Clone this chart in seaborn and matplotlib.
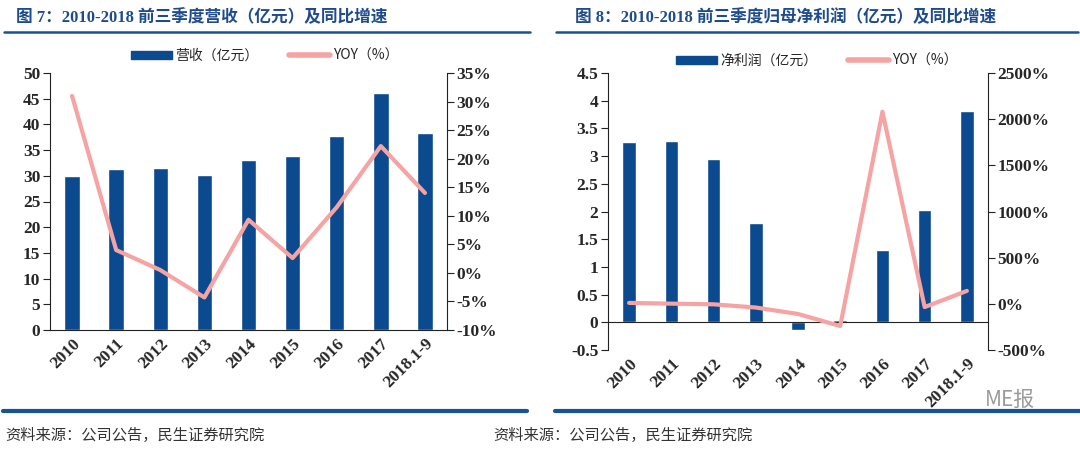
import numpy as np
import pandas as pd
import matplotlib
matplotlib.use("Agg")
import matplotlib.pyplot as plt
import seaborn as sns
from matplotlib.patches import Patch
from matplotlib.lines import Line2D
from matplotlib.ticker import FuncFormatter, FixedLocator

sns.set_style("white")
plt.rcParams['font.family'] = ['Liberation Serif', 'Noto Sans CJK SC', 'DejaVu Sans']

# data
years = ['2010', '2011', '2012', '2013', '2014', '2015', '2016', '2017', '2018.1-9']
revenue = [30.0, 31.4, 31.5, 30.2, 33.0, 33.8, 37.8, 46.2, 38.4]
revenue_yoy = [31.0, 4.0, 0.5, -4.3, 9.3, 2.6, 11.5, 22.2, 14.0]
profit = [3.25, 3.28, 2.95, 1.80, -0.13, 0.05, 1.30, 2.03, 3.82]
profit_yoy = [10, 2, -5, -40, -110, -240, 2080, -35, 140]

titles = ['图 7：2010-2018 前三季度营收（亿元）及同比增速',
          '图 8：2010-2018 前三季度归母净利润（亿元）及同比增速']
bar_labels = ['营收（亿元）', '净利润（亿元）']
line_label = 'YOY（%）'
source = '资料来源：公司公告，民生证券研究院'

NAVY = '#0B4A8F'
PINK = '#F5A3A3'
TITLE_BLUE = '#1E4B8C'
LINE_BLUE = '#175497'

fig = plt.figure(figsize=(10.8, 4.5), dpi=100)
W, H = 1080, 450


def fx(px):
    return px / W


def fy(py):
    return 1 - py / H


tick_font = dict(family='Liberation Serif', weight='bold', size=12.5)


def panel(rect, vals, yoy, ylim, ystep, y2lim, y2step, bar_w, lbl_pad, legend_xy, legend_lbl):
    df = pd.DataFrame({'year': years, 'val': vals, 'yoy': yoy, 'pos': range(len(years))})
    ax = fig.add_axes(rect)
    sns.barplot(data=df, x='year', y='val', color=NAVY, width=bar_w, saturation=1, ax=ax)
    ax.set_xlim(-0.5, len(years) - 0.5)
    ax.set_ylim(*ylim)
    ax.set_yticks(np.arange(ylim[0], ylim[1] + ystep / 2, ystep))
    ax.yaxis.set_major_formatter(FuncFormatter(lambda v, p: f'{v:g}'))
    ax.set_xlabel('')
    ax.set_ylabel('')
    for s in ['top', 'right']:
        ax.spines[s].set_visible(False)
    ax.spines['left'].set_color('#222222')
    ax.spines['bottom'].set_color('#222222')
    ax.spines['bottom'].set_position(('data', 0))
    ax.xaxis.set_minor_locator(FixedLocator(np.arange(-0.5, len(years), 1.0)))
    ax.tick_params(axis='x', which='major', length=0, pad=lbl_pad)
    ax.tick_params(axis='x', which='minor', length=6, direction='out', color='#222222')
    ax.tick_params(axis='y', length=5, direction='out', color='#222222', pad=2)
    ax.set_xticks(range(len(years)))
    ax.set_xticklabels(years, rotation=45, ha='right', rotation_mode='anchor', **tick_font)
    for t in ax.get_yticklabels():
        t.set_fontproperties(tick_font)

    ax2 = ax.twinx()
    sns.lineplot(data=df, x='pos', y='yoy', color=PINK, linewidth=3, ax=ax2)
    ax2.set_ylim(*y2lim)
    ax2.set_yticks(np.arange(y2lim[0], y2lim[1] + y2step / 2, y2step))
    ax2.yaxis.set_major_formatter(FuncFormatter(lambda v, p: f'{v:.0f}%'))
    ax2.set_ylabel('')
    for s in ['top', 'left', 'bottom']:
        ax2.spines[s].set_visible(False)
    ax2.spines['right'].set_color('#222222')
    ax2.tick_params(axis='y', length=5, direction='out', color='#222222', pad=2)
    for t in ax2.get_yticklabels():
        t.set_fontproperties(tick_font)
    ax2.set_xlim(-0.5, len(years) - 0.5)

    handles = [Patch(facecolor=NAVY, edgecolor=NAVY),
               Line2D([0], [0], color=PINK, linewidth=4)]
    fig.legend(handles, [legend_lbl, line_label], loc='center left',
               bbox_to_anchor=legend_xy, ncol=2, frameon=False,
               handlelength=3.0, handleheight=0.55, handletextpad=0.2,
               columnspacing=2.2, prop=dict(family='Noto Sans CJK SC', size=10))
    return ax


panel([fx(50), fy(330), fx(397), (330 - 73) / H], revenue, revenue_yoy,
      (0, 50), 5, (-10, 35), 5, 0.35, 4, (fx(118), fy(56)), bar_labels[0])
panel([fx(608), fy(350), fx(380), (350 - 73) / H], profit, profit_yoy,
      (-0.5, 4.5), 0.5, (-500, 2500), 500, 0.32, 24, (fx(663), fy(61)), bar_labels[1])

# titles, rules and source notes
for x0, x1, tx, title in [(4, 530, 16, titles[0]), (556, 1078, 575, titles[1])]:
    fig.text(fx(tx), fy(18), title, color=TITLE_BLUE, fontsize=12, weight='bold',
             va='center', ha='left', family=['Liberation Serif', 'Noto Sans CJK SC'])
    fig.add_artist(Line2D([fx(x0), fx(x1)], [fy(32), fy(32)], color=LINE_BLUE, linewidth=1.8))

for x0, x1, tx in [(3, 527, 5), (555, 1080, 493)]:
    fig.add_artist(Line2D([fx(x0), fx(x1)], [fy(411), fy(411)], color=LINE_BLUE, linewidth=3))
    fig.text(fx(tx), fy(435), source, color='#333333', fontsize=11,
             va='center', ha='left', family='Noto Sans CJK SC')

fig.text(fx(985), fy(400), 'ME报', color='#9a9a9a', fontsize=15, va='center', ha='left',
         family='Noto Sans CJK SC')

fig.savefig('out.png', dpi=100)
